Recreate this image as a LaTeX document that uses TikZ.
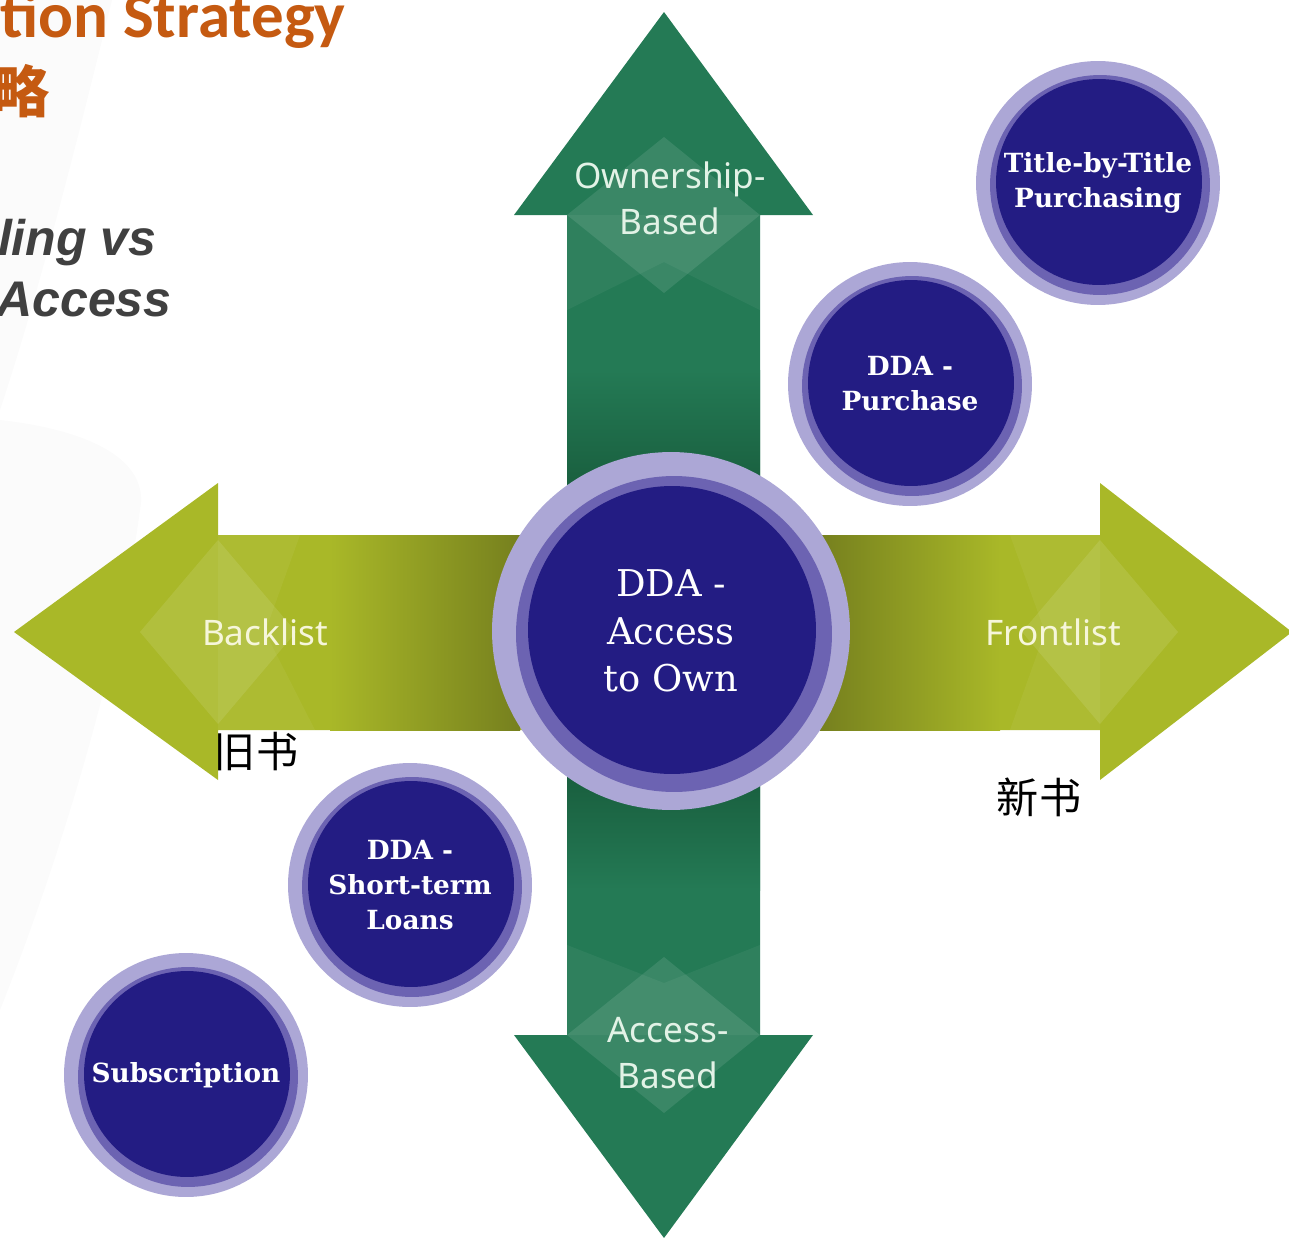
\documentclass[tikz,border=0pt]{standalone}
\usepackage{fontspec}
\setmainfont{DejaVu Serif}
\newfontfamily\armfont{Noto Sans}
\newfontfamily\cjkfont{Noto Sans CJK SC}
\newfontfamily\slidefont{Carlito}
\newfontfamily\subfont{Liberation Sans}
\definecolor{navy}{RGB}{35,28,131}
\definecolor{ringmid}{RGB}{108,99,178}
\definecolor{ringlight}{RGB}{172,167,214}
\definecolor{olive}{RGB}{169,184,40}
\definecolor{olivedark}{RGB}{118,128,30}
\definecolor{arrowgreen}{RGB}{36,122,85}
\definecolor{arrowgreendark}{RGB}{24,92,60}
\definecolor{slideorange}{RGB}{197,90,17}
\definecolor{slidegray}{RGB}{64,64,64}
\definecolor{mint}{RGB}{226,242,230}
\definecolor{cream}{RGB}{246,246,218}
\tikzset{
    disc/.style={circle, inner sep=0mm, fill=ringlight, text=white, align=center},
    bubble/.style={disc, minimum size=4.88cm, font=\bfseries\fontsize{15}{20}\selectfont,
        path picture={
            \fill[ringmid] ([shift={(0.04cm,-0.04cm)}]path picture bounding box.center) circle (2.2cm);
            \fill[navy] ([shift={(0.02cm,0.02cm)}]path picture bounding box.center) circle (2.06cm);
        }},
    hub/.style={disc, minimum size=7.16cm, font=\fontsize{21}{27}\selectfont,
        path picture={
            \fill[ringmid] ([shift={(0.06cm,-0.06cm)}]path picture bounding box.center) circle (3.16cm);
            \fill[navy] ([shift={(0.02cm,0.02cm)}]path picture bounding box.center) circle (2.88cm);
        }},
    armlabel/.style={align=center, inner sep=0mm, text=mint, font=\armfont\fontsize{20}{26}\selectfont},
    olivelabel/.style={armlabel, text=cream},
    cjk/.style={inner sep=0mm, text=black, font=\cjkfont\fontsize{24}{28}\selectfont},
    glint/.style={fill=white, fill opacity=0.1},
    glintsoft/.style={fill=white, fill opacity=0.05}
}

\begin{document}
\begin{tikzpicture}[x=0.02cm, y=-0.02cm]
        \useasboundingbox (0,0) rectangle (1289,1238);
        \clip (0,0) rectangle (1289,1238);
        \fill[gray!3] (0,0) -- (112,0) .. controls (80,130) and (40,290) .. (0,410) -- cycle;
        \fill[gray!3] (0,420) .. controls (90,430) and (150,460) .. (140,510) .. controls (120,660) and (60,860) .. (0,1010) -- cycle;
        \node (title) [anchor=base east, inner sep=0mm, text=slideorange, font=\slidefont\bfseries\fontsize{37}{42}\selectfont] at (346,37) {tion Strategy};
        \node (titlecn) [anchor=east, inner sep=0mm, text=slideorange, font=\cjkfont\bfseries\fontsize{32}{36}\selectfont] at (50,91) {略};
        \node (sub1) [anchor=base east, inner sep=0mm, text=slidegray, font=\subfont\bfseries\itshape\fontsize{28.5}{34}\selectfont] at (157,255) {ling vs};
        \node (sub2) [anchor=base east, inner sep=0mm, text=slidegray, font=\subfont\bfseries\itshape\fontsize{28.5}{34}\selectfont] at (172,316) {Access};
        \node (old) [cjk] at (256,752) {旧书};
        \node (new) [cjk] at (1039,797) {新书};
        \fill[arrowgreen] (567,640) -- (567,215) -- (514,215) -- (664,12) -- (813,215) -- (760,215) -- (760,640) -- cycle;
        \shade[top color=arrowgreen, bottom color=arrowgreendark] (567,370) rectangle (760,500);
        \fill[glint] (664,137) -- (760,215) -- (664,293) -- (567,215) -- cycle;
        \fill[glintsoft] (567,215) -- (567,310) -- (664,262) -- (760,310) -- (760,215) -- cycle;
        \fill[arrowgreen] (567,620) -- (567,1035) -- (514,1035) -- (664,1238) -- (813,1035) -- (760,1035) -- (760,620) -- cycle;
        \shade[top color=arrowgreendark, bottom color=arrowgreen] (567,765) rectangle (760,890);
        \fill[glint] (664,957) -- (760,1035) -- (664,1113) -- (567,1035) -- cycle;
        \fill[glintsoft] (567,1035) -- (567,945) -- (664,983) -- (760,945) -- (760,1035) -- cycle;
        \fill[olive] (670,535) -- (218,535) -- (218,483) -- (14,632) -- (218,780) -- (218,730) -- (670,730) -- cycle;
        \shade[left color=olive, right color=olivedark] (330,535) rectangle (520,730);
        \fill[glint] (140,632) -- (218,540) -- (296,632) -- (218,724) -- cycle;
        \fill[glintsoft] (218,535) -- (300,535) -- (265,632) -- (315,730) -- (218,730) -- cycle;
        \fill[olive] (670,535) -- (1100,535) -- (1100,483) -- (1292,632) -- (1100,780) -- (1100,730) -- (670,730) -- cycle;
        \shade[left color=olivedark, right color=olive] (820,535) rectangle (1000,730);
        \fill[glint] (1178,632) -- (1100,540) -- (1022,632) -- (1100,724) -- cycle;
        \fill[glintsoft] (1100,535) -- (1010,535) -- (1045,632) -- (1010,730) -- (1100,730) -- cycle;
        \node (own) [armlabel] at (670,198) {Ownership-\\Based};
        \node (acc) [armlabel] at (668,1053) {Access-\\Based};
        \node (back) [olivelabel] at (265,632) {Backlist};
        \node (front) [olivelabel] at (1053,632) {Frontlist};
        \node (ddaown) [hub] at (671,631) {DDA -\\Access\\to Own};
        \node (tbt) [bubble] at (1098,183) {Title-by-Title\\Purchasing};
        \node (ddabuy) [bubble] at (910,384) {DDA -\\Purchase};
        \node (ddaloan) [bubble] at (410,885) {DDA -\\Short-term\\Loans};
        \node (subs) [bubble] at (186,1075) {Subscription};
\end{tikzpicture}
\end{document}
